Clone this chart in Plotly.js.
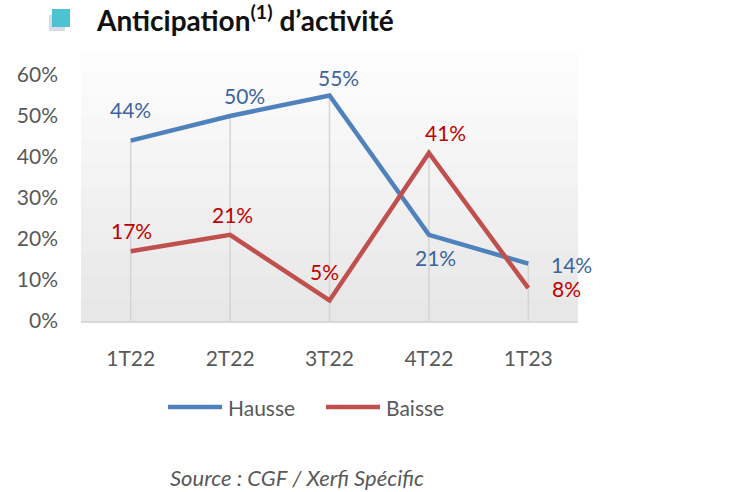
<!DOCTYPE html>
<html lang="fr">
<head>
    <meta charset="UTF-8">
    <title>Anticipation d'activité</title>
    <script src="https://cdn.plot.ly/plotly-3.0.0.min.js" charset="utf-8"></script>
    <style>
        body { margin: 0; background: #ffffff; }
        #plot { width: 747px; height: 492px; }
    </style>
</head>
<body>
<div id="plot"></div>
<script>
    // Data
    const quarters = ['1T22', '2T22', '3T22', '4T22', '1T23'];
    const hausse = [44, 50, 55, 21, 14];
    const baisse = [17, 21, 5, 41, 8];

    // Label offsets (px) for each point
    const hausseShift = [[0, 31], [14, 21], [9, 18], [7, -23], [43, -1]];
    const baisseShift = [[1, 21], [2, 20], [-5, 29], [17, 20], [38, 0]];

    const W = 747, H = 492;
    const margin = { l: 81, r: 169, t: 75, b: 171 };
    const plotW = W - margin.l - margin.r;
    const plotH = H - margin.t - margin.b;
    const px = x => (x - margin.l) / plotW;
    const py = y => (H - margin.b - y) / plotH;

    const FONT = 'Lato, "Open Sans", sans-serif';
    const BLUE = '#4f81bd', RED = '#c0504d';

    const series = [
        { name: 'Hausse', values: hausse, color: BLUE, label: '#3b64a0', shift: hausseShift, legendX: 168 },
        { name: 'Baisse', values: baisse, color: RED, label: '#c00000', shift: baisseShift, legendX: 326 }
    ];

    const traces = series.map(s => ({
        x: quarters, y: s.values, name: s.name, mode: 'lines', line: { color: s.color, width: 4.5 }
    }));

    const shapes = [];
    // soft grey gradient in the plot area
    for (let i = 1; i <= 12; i++) {
        shapes.push({ type: 'rect', xref: 'paper', yref: 'paper', x0: 0, x1: 1, y0: 0, y1: 1.1 * i / 12,
            fillcolor: 'rgba(0,0,0,0.006)', line: { width: 0 }, layer: 'below' });
    }
    // drop lines from the higher value down to the axis
    quarters.forEach((q, i) => {
        shapes.push({ type: 'line', xref: 'x', yref: 'y', x0: q, x1: q, y0: 0,
            y1: Math.max(hausse[i], baisse[i]), line: { color: '#d4d4d4', width: 1.5 }, layer: 'below' });
    });
    // title icon
    shapes.push({ type: 'rect', xref: 'paper', yref: 'paper', x0: px(49), x1: px(65), y0: py(31), y1: py(15),
        fillcolor: '#d6dbe6', line: { width: 0 } });
    shapes.push({ type: 'rect', xref: 'paper', yref: 'paper', x0: px(52), x1: px(70), y0: py(27), y1: py(9),
        fillcolor: '#4cc3d3', line: { width: 0 } });

    const annotations = [];
    series.forEach(s => {
        quarters.forEach((q, i) => {
            annotations.push({ x: q, y: s.values[i], text: s.values[i] + '%', showarrow: false,
                xshift: s.shift[i][0], yshift: s.shift[i][1], font: { family: FONT, size: 21, color: s.label } });
        });
        // legend entry
        shapes.push({ type: 'line', xref: 'paper', yref: 'paper', x0: px(s.legendX), x1: px(s.legendX + 54),
            y0: py(407), y1: py(407), line: { color: s.color, width: 4.5 } });
        annotations.push({ xref: 'paper', yref: 'paper', x: px(s.legendX + 58), y: py(408), xanchor: 'left',
            yanchor: 'middle', showarrow: false, text: s.name, font: { family: FONT, size: 21, color: '#595959' } });
    });
    annotations.push({ xref: 'paper', yref: 'paper', x: px(297), y: py(477), xanchor: 'center', yanchor: 'middle',
        showarrow: false, text: '<i>Source : CGF / Xerfi Spécific</i>', font: { family: FONT, size: 22, color: '#595959' } });
    annotations.push({ xref: 'paper', yref: 'paper', x: px(94), y: py(18), xanchor: 'left', yanchor: 'middle',
        showarrow: false, text: '<b>Anticipation<sup>(1)</sup> d’activité</b>', font: { family: FONT, size: 28, color: '#111111' } });

    const layout = {
        width: W, height: H,
        margin: margin,
        paper_bgcolor: '#ffffff',
        plot_bgcolor: 'rgba(0,0,0,0)',
        font: { family: FONT, color: '#595959', size: 21 },
        showlegend: false,
        xaxis: { type: 'category', range: [-0.5, 4.5], showgrid: false, showline: true, linecolor: '#d9d9d9',
            linewidth: 1.5, ticks: '', zeroline: false, ticklabelstandoff: 18, tickfont: { size: 21 } },
        yaxis: { range: [0, 60], dtick: 10, ticksuffix: '%', showgrid: false, zeroline: false,
            showline: false, ticks: '', ticklabelstandoff: 22, tickfont: { size: 21 } },
        shapes: shapes,
        annotations: annotations
    };

    Plotly.newPlot('plot', traces, layout, { displayModeBar: false, staticPlot: true });
</script>
</body>
</html>
